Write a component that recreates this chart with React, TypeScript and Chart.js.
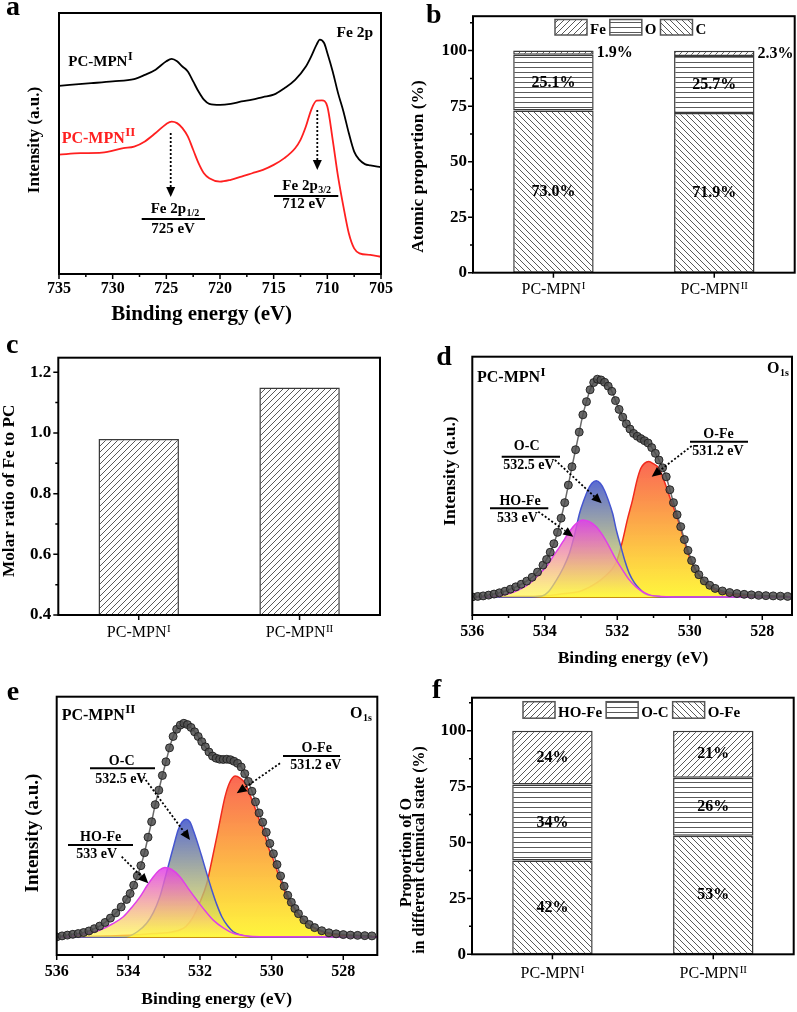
import React, { useEffect, useRef } from 'react';
import { Chart, registerables } from 'chart.js';

Chart.register(...registerables);

const SERIF = '"Liberation Serif", "Times New Roman", "DejaVu Serif", serif';
const RED = '#ff2020';

// ---------------- Panel a : Fe 2p spectra ----------------
const feEnergyI = [735, 732, 730, 728, 727, 726, 725, 724.5, 724, 723.5, 723, 722.5, 722, 721.5, 721, 720, 719, 718, 717, 716, 715, 714, 713, 712, 711.5, 711, 710.7, 710.3, 710, 709.5, 709, 708.5, 708, 707.5, 707, 706.5, 706, 705];
const feIntensityI = [72.1, 73.1, 73.8, 74.7, 76.3, 78.3, 81.5, 82.4, 81.5, 79.5, 77.6, 73.8, 69.9, 66.8, 65.2, 64.8, 65.2, 66.1, 66.8, 67.8, 68.7, 71.2, 74.4, 79.5, 83.4, 87.9, 89.8, 88.5, 84.7, 77.6, 69.3, 62.3, 54.0, 46.9, 43.7, 42.1, 41.6, 40.9];
const feEnergyII = [735, 733, 731, 729, 728, 727, 726, 725, 724.5, 724, 723.5, 723, 722.5, 722, 721.5, 721, 720, 719, 718, 717, 716, 715, 714, 713, 712.5, 712, 711.5, 711, 710.5, 710, 709.5, 709, 708.5, 708, 707.5, 707, 706, 705];
const feIntensityII = [45.7, 46.3, 46.5, 48.2, 48.8, 50.8, 54.0, 57.5, 58.4, 57.8, 55.9, 52.7, 47.6, 42.5, 38.6, 36.7, 35.4, 36.1, 37.3, 38.6, 39.9, 41.8, 44.4, 48.2, 51.4, 56.5, 62.9, 66.4, 66.5, 64.2, 51.4, 37.3, 25.8, 15.6, 9.8, 7.9, 7.3, 6.6];
const feTicks = [735, 730, 725, 720, 715, 710, 705];
const feMinorTicks = [732.5, 727.5, 722.5, 717.5, 712.5, 707.5];

// ---------------- Panel b : atomic proportion ----------------
const sampleNames = ['PC-MPN', 'PC-MPN'];
const sampleSup = ['I', 'II'];
const atomicC = [73.0, 71.9];
const atomicO = [25.1, 25.7];
const atomicFe = [1.9, 2.3];
const pctTicks = [0, 25, 50, 75, 100];
const pctMinorTicks = [12.5, 37.5, 62.5, 87.5, 112.5];

// ---------------- Panel c : molar ratio ----------------
const molarRatio = [0.98, 1.15];
const ratioTicks = [0.4, 0.6, 0.8, 1.0, 1.2];
const ratioMinorTicks = [0.5, 0.7, 0.9, 1.1];

// ---------------- Panels d, e : O 1s ----------------
const o1sTicks = [536, 534, 532, 530, 528];
const o1sMinorTicks = [535, 533, 531, 529];

const dEnvE = [536.0, 535.85, 535.7, 535.55, 535.4, 535.25, 535.1, 534.95, 534.8, 534.65, 534.5, 534.35, 534.2, 534.05, 533.95, 533.85, 533.75, 533.65, 533.55, 533.45, 533.35, 533.25, 533.15, 533.05, 532.95, 532.85, 532.75, 532.65, 532.55, 532.45, 532.35, 532.25, 532.15, 532.05, 531.95, 531.85, 531.75, 531.65, 531.55, 531.45, 531.35, 531.25, 531.15, 531.05, 530.95, 530.85, 530.75, 530.65, 530.55, 530.45, 530.35, 530.25, 530.15, 530.05, 529.95, 529.85, 529.75, 529.6, 529.45, 529.3, 529.1, 528.9, 528.7, 528.5, 528.3, 528.1, 527.9, 527.7, 527.5, 527.3];
const dEnvI = [7.0, 7.2, 7.4, 7.7, 8.1, 8.6, 9.2, 10.0, 10.9, 11.9, 13.1, 14.6, 16.6, 19.3, 21.5, 24.3, 27.6, 32.0, 37.5, 43.5, 50.3, 57.4, 64.0, 70.8, 77.5, 82.6, 87.2, 90.0, 91.3, 91.0, 90.1, 88.6, 86.6, 83.0, 79.6, 76.6, 74.0, 72.0, 70.3, 69.2, 68.3, 67.5, 66.6, 64.8, 62.6, 60.0, 57.0, 53.5, 48.5, 43.5, 38.8, 34.2, 29.2, 25.0, 21.1, 17.9, 15.6, 13.2, 11.5, 10.3, 9.3, 8.7, 8.3, 8.0, 7.8, 7.6, 7.5, 7.4, 7.3, 7.2];
const dOFeE = [536.0, 535.0, 534.0, 533.5, 533.0, 532.58, 532.3, 532.13, 532.0, 531.85, 531.72, 531.58, 531.45, 531.35, 531.25, 531.13, 531.0, 530.85, 530.72, 530.62, 530.5, 530.39, 530.25, 530.16, 530.05, 529.93, 529.8, 529.7, 529.55, 529.38, 529.15, 528.92, 528.5, 528.0, 527.2];
const dOFeI = [7.0, 7.1, 7.4, 8.2, 9.3, 12.3, 15.5, 18.0, 21.5, 29.0, 37.0, 44.5, 52.5, 56.8, 58.7, 59.4, 58.5, 56.8, 52.5, 48.4, 43.5, 39.4, 33.5, 29.0, 24.0, 20.0, 16.5, 14.8, 12.3, 10.3, 8.9, 8.1, 7.5, 7.3, 7.1];
const dOCE = [536.0, 534.5, 534.09, 533.9, 533.68, 533.5, 533.32, 533.18, 533.04, 532.92, 532.81, 532.7, 532.58, 532.47, 532.36, 532.25, 532.13, 532.02, 531.9, 531.78, 531.67, 531.53, 531.4, 531.25, 531.0, 530.5, 527.2];
const dOCI = [7.0, 7.0, 7.3, 9.0, 13.5, 18.0, 23.9, 31.0, 39.4, 44.5, 48.4, 51.0, 52.0, 51.0, 48.4, 44.5, 39.4, 32.5, 26.4, 20.5, 16.1, 12.5, 10.3, 8.3, 7.3, 7.0, 7.0];
const dHOFeE = [536.0, 535.4, 535.0, 534.7, 534.41, 534.2, 533.96, 533.78, 533.59, 533.45, 533.32, 533.15, 532.95, 532.78, 532.58, 532.4, 532.22, 532.05, 531.85, 531.68, 531.49, 531.3, 531.1, 530.8, 530.0, 527.2];
const dHOFeI = [7.0, 7.3, 8.2, 9.8, 12.3, 15.2, 18.7, 22.5, 26.4, 29.5, 32.3, 35.2, 36.8, 36.2, 34.2, 30.8, 26.4, 21.8, 17.4, 13.8, 11.0, 9.0, 7.7, 7.2, 7.0, 7.0];
const dBgE = [536.0, 527.2];
const dBgI = [7.0, 7.0];

const eEnvE = [536.0, 535.85, 535.7, 535.55, 535.4, 535.25, 535.1, 534.95, 534.8, 534.65, 534.5, 534.35, 534.2, 534.05, 533.95, 533.85, 533.75, 533.65, 533.55, 533.45, 533.35, 533.25, 533.15, 533.05, 532.95, 532.85, 532.75, 532.65, 532.55, 532.45, 532.35, 532.25, 532.15, 532.05, 531.95, 531.85, 531.75, 531.65, 531.55, 531.45, 531.35, 531.25, 531.15, 531.05, 530.95, 530.85, 530.75, 530.65, 530.55, 530.45, 530.35, 530.25, 530.15, 530.05, 529.95, 529.85, 529.75, 529.65, 529.55, 529.45, 529.35, 529.25, 529.1, 528.95, 528.8, 528.6, 528.4, 528.2, 528.0, 527.8, 527.6, 527.4, 527.2];
const eEnvI = [7.0, 7.4, 7.7, 8.0, 8.3, 8.7, 9.3, 10.2, 11.2, 12.6, 14.3, 16.3, 18.6, 21.5, 23.8, 27.0, 30.6, 34.6, 39.6, 45.6, 51.6, 58.2, 63.8, 69.5, 74.8, 80.2, 84.6, 87.4, 89.0, 89.7, 89.2, 88.1, 86.4, 84.6, 82.6, 80.6, 78.6, 77.0, 76.2, 75.8, 75.7, 75.8, 75.6, 75.0, 74.2, 72.8, 70.2, 67.2, 63.4, 59.3, 55.0, 51.4, 47.5, 43.2, 39.2, 35.0, 30.6, 26.6, 23.1, 20.4, 18.0, 16.0, 13.6, 11.8, 10.6, 9.4, 8.6, 8.2, 7.9, 7.7, 7.6, 7.5, 7.4];
const eOFeE = [536.0, 535.3, 534.5, 533.86, 533.3, 532.75, 532.4, 532.19, 532.0, 531.81, 531.67, 531.53, 531.42, 531.3, 531.18, 531.02, 530.88, 530.74, 530.62, 530.51, 530.38, 530.23, 530.1, 529.95, 529.82, 529.68, 529.55, 529.4, 529.2, 529.02, 528.75, 528.46, 528.0, 527.5, 527.05];
const eOFeI = [7.0, 7.1, 7.4, 7.7, 8.3, 9.0, 11.0, 14.8, 20.5, 27.7, 36.5, 45.8, 53.5, 61.3, 66.5, 69.3, 68.5, 66.5, 62.5, 58.7, 53.5, 48.4, 42.0, 36.8, 31.5, 26.4, 22.0, 18.7, 14.8, 12.3, 10.0, 8.4, 7.6, 7.3, 7.1];
const eOCE = [536.0, 534.6, 534.05, 533.75, 533.49, 533.3, 533.12, 532.98, 532.84, 532.72, 532.61, 532.5, 532.39, 532.28, 532.19, 532.07, 531.95, 531.81, 531.67, 531.53, 531.39, 531.23, 531.07, 530.85, 530.6, 530.0, 527.05];
const eOCI = [7.0, 7.0, 7.1, 9.0, 12.3, 16.5, 22.6, 29.5, 36.8, 43.0, 48.4, 51.5, 52.6, 51.5, 48.4, 43.5, 38.1, 31.5, 25.2, 19.5, 14.8, 11.3, 9.0, 7.7, 7.1, 7.0, 7.0];
const eHOFeE = [536.0, 535.72, 535.2, 534.79, 534.45, 534.14, 533.9, 533.67, 533.48, 533.3, 533.14, 532.98, 532.8, 532.56, 532.33, 532.09, 531.85, 531.63, 531.35, 531.07, 530.7, 530.33, 527.05];
const eHOFeI = [7.0, 7.1, 8.2, 9.7, 12.0, 14.8, 18.5, 22.6, 26.8, 30.3, 32.8, 33.9, 33.2, 30.3, 25.8, 21.3, 17.0, 13.5, 10.5, 8.4, 7.4, 7.1, 7.0];
const eBgE = [536.0, 527.05];
const eBgI = [7.0, 7.0];

// ---------------- Panel f : O chemical states ----------------
const stateOFe = [42, 53];
const stateOC = [34, 26];
const stateHOFe = [24, 21];

// ---------------- helpers ----------------
const pts = (xs: number[], ys: number[]) => xs.map((x, i) => ({ x, y: ys[i] }));
const fontOf = (size: number, bold = true) => `${bold ? 'bold ' : ''}${size}px ${SERIF}`;

type Ann =
  | { kind: 'text'; x: number; y: number; text: string; size: number; bold?: boolean; color?: string; align?: 'left' | 'center' | 'right'; sup?: string; sub?: string; small?: number; shift?: number }
  | { kind: 'rot'; x: number; y: number; text: string; size: number }
  | { kind: 'line'; x1: number; y1: number; x2: number; y2: number }
  | { kind: 'arrow'; x1: number; y1: number; x2: number; y2: number };

const T = (text: string, x: number, y: number, size: number, o: any = {}): Ann => ({ kind: 'text', text, x, y, size, bold: true, align: 'center', ...o });
const R = (text: string, x: number, y: number, size: number): Ann => ({ kind: 'rot', text, x, y, size });
const L = (x1: number, y1: number, x2: number, y2: number): Ann => ({ kind: 'line', x1, y1, x2, y2 });
const A = (x1: number, y1: number, x2: number, y2: number): Ann => ({ kind: 'arrow', x1, y1, x2, y2 });

function drawScriptText(ctx: CanvasRenderingContext2D, a: any) {
  const bold = a.bold !== false;
  ctx.font = fontOf(a.size, bold);
  const w1 = ctx.measureText(a.text).width;
  const extra = a.sup ?? a.sub;
  let w2 = 0;
  const small = a.small ?? Math.round(a.size * 0.7);
  if (extra) {
    ctx.font = fontOf(small, bold);
    w2 = ctx.measureText(extra).width + 0.5;
  }
  const total = w1 + w2;
  const x0 = a.align === 'center' ? a.x - total / 2 : a.align === 'right' ? a.x - total : a.x;
  ctx.fillStyle = a.color || '#000';
  ctx.textAlign = 'left';
  ctx.textBaseline = 'alphabetic';
  ctx.font = fontOf(a.size, bold);
  ctx.fillText(a.text, x0, a.y);
  if (extra) {
    ctx.font = fontOf(small, bold);
    const dy = a.sup ? -(a.shift ?? 5) : (a.shift ?? 3);
    ctx.fillText(extra, x0 + w1 + 0.5, a.y + dy);
  }
}

function drawArrow(ctx: CanvasRenderingContext2D, x1: number, y1: number, x2: number, y2: number) {
  const ang = Math.atan2(y2 - y1, x2 - x1);
  const head = 10, hw = 4.5;
  const bx = x2 - head * Math.cos(ang), by = y2 - head * Math.sin(ang);
  ctx.strokeStyle = '#000';
  ctx.fillStyle = '#000';
  ctx.lineWidth = 1.8;
  ctx.setLineDash([2, 2]);
  ctx.beginPath();
  ctx.moveTo(x1, y1);
  ctx.lineTo(bx, by);
  ctx.stroke();
  ctx.setLineDash([]);
  ctx.beginPath();
  ctx.moveTo(x2, y2);
  ctx.lineTo(bx - hw * Math.sin(ang), by + hw * Math.cos(ang));
  ctx.lineTo(bx + hw * Math.sin(ang), by - hw * Math.cos(ang));
  ctx.closePath();
  ctx.fill();
}

function annotations(items: Ann[]) {
  return {
    id: 'annotations',
    afterDraw(chart: any) {
      const ctx: CanvasRenderingContext2D = chart.ctx;
      ctx.save();
      for (const a of items) {
        if (a.kind === 'text') drawScriptText(ctx, a);
        else if (a.kind === 'rot') {
          ctx.save();
          ctx.translate(a.x, a.y);
          ctx.rotate(-Math.PI / 2);
          ctx.font = fontOf(a.size, true);
          ctx.fillStyle = '#000';
          ctx.textAlign = 'center';
          ctx.textBaseline = 'middle';
          ctx.fillText(a.text, 0, 0);
          ctx.restore();
        } else if (a.kind === 'line') {
          ctx.strokeStyle = '#000';
          ctx.lineWidth = 2;
          ctx.beginPath();
          ctx.moveTo(a.x1, a.y1);
          ctx.lineTo(a.x2, a.y2);
          ctx.stroke();
        } else if (a.kind === 'arrow') drawArrow(ctx, a.x1, a.y1, a.x2, a.y2);
      }
      ctx.restore();
    },
  };
}

function framePlugin(opt: { xMajor?: boolean; yMajor?: boolean; xMinor?: number[]; yMinor?: number[] }) {
  return {
    id: 'frame',
    afterDraw(chart: any) {
      const { ctx, chartArea: a, scales } = chart;
      const xs = scales.x, ys = scales.y;
      ctx.save();
      ctx.strokeStyle = '#000';
      ctx.lineWidth = 1.5;
      ctx.beginPath();
      if (opt.xMajor) xs.ticks.forEach((_: any, i: number) => { const p = xs.getPixelForTick(i); ctx.moveTo(p, a.bottom); ctx.lineTo(p, a.bottom + 5); });
      (opt.xMinor || []).forEach((v) => { const p = xs.getPixelForValue(v); ctx.moveTo(p, a.bottom); ctx.lineTo(p, a.bottom + 3); });
      if (opt.yMajor) ys.ticks.forEach((_: any, i: number) => { const p = ys.getPixelForTick(i); ctx.moveTo(a.left, p); ctx.lineTo(a.left - 5, p); });
      (opt.yMinor || []).forEach((v) => { const p = ys.getPixelForValue(v); ctx.moveTo(a.left, p); ctx.lineTo(a.left - 3, p); });
      ctx.stroke();
      ctx.lineWidth = 2;
      ctx.strokeRect(a.left, a.top, a.right - a.left, a.bottom - a.top);
      ctx.restore();
    },
  };
}

function categoryLabels(sups: string[], dy: number) {
  return {
    id: 'catLabels',
    afterDraw(chart: any) {
      const { ctx, scales, chartArea } = chart;
      ctx.save();
      (chart.data.labels as string[]).forEach((lab, i) => {
        drawScriptText(ctx, { x: scales.x.getPixelForValue(i), y: chartArea.bottom + dy, text: lab, size: 16, bold: false, align: 'center', sup: sups[i], small: 11, shift: 5 });
      });
      ctx.restore();
    },
  };
}

function barLabels(fmt: (v: number) => string) {
  return {
    id: 'barLabels',
    afterDatasetsDraw(chart: any) {
      const ctx: CanvasRenderingContext2D = chart.ctx;
      ctx.save();
      ctx.font = fontOf(16, true);
      ctx.fillStyle = '#000';
      ctx.textBaseline = 'middle';
      chart.data.datasets.forEach((ds: any, di: number) => {
        if (!ds.labelMode) return;
        chart.getDatasetMeta(di).data.forEach((el: any, i: number) => {
          const { x, y, base, width } = el.getProps(['x', 'y', 'base', 'width'], true);
          const cy = (y + base) / 2;
          const txt = fmt(ds.data[i]);
          if (ds.labelMode === 'right') { ctx.textAlign = 'left'; ctx.fillText(txt, x + width / 2 + 3, cy); }
          else { ctx.textAlign = 'center'; ctx.fillText(txt, x, cy); }
        });
      });
      ctx.restore();
    },
  };
}

function hatchLegend(x0: number, top: number, h: number, baseline: number) {
  return {
    id: 'hatchLegend',
    afterDraw(chart: any) {
      const ctx: CanvasRenderingContext2D = chart.ctx;
      ctx.save();
      ctx.font = fontOf(15, true);
      ctx.textAlign = 'left';
      ctx.textBaseline = 'alphabetic';
      let x = x0;
      [...chart.data.datasets].reverse().forEach((ds: any) => {
        ctx.fillStyle = ds.backgroundColor;
        ctx.fillRect(x, top, 32, h);
        ctx.strokeStyle = '#555';
        ctx.lineWidth = 1.5;
        ctx.strokeRect(x, top, 32, h);
        x += 35;
        ctx.fillStyle = '#000';
        ctx.fillText(ds.label, x, baseline);
        x += ctx.measureText(ds.label).width + 4;
      });
      ctx.restore();
    },
  };
}

function hatch(kind: 'slash' | 'back' | 'horiz'): CanvasPattern {
  const s = kind === 'horiz' ? 5 : 6;
  const c = document.createElement('canvas');
  c.width = s;
  c.height = s;
  const g = c.getContext('2d')!;
  g.fillStyle = '#fff';
  g.fillRect(0, 0, s, s);
  g.strokeStyle = '#474747';
  g.lineWidth = 0.9;
  g.beginPath();
  if (kind === 'horiz') { g.moveTo(0, 2.5); g.lineTo(s, 2.5); }
  else if (kind === 'slash') { g.moveTo(-1, s + 1); g.lineTo(s + 1, -1); g.moveTo(-1, 1); g.lineTo(1, -1); g.moveTo(s - 1, s + 1); g.lineTo(s + 1, s - 1); }
  else { g.moveTo(-1, -1); g.lineTo(s + 1, s + 1); g.moveTo(s - 1, -1); g.lineTo(s + 1, 1); g.moveTo(-1, s - 1); g.lineTo(1, s + 1); }
  g.stroke();
  return g.createPattern(c, 'repeat')!;
}

function peakFill(topColor: string, bottomColor: string, base: number) {
  return (c: any) => {
    const chart = c.chart;
    if (!chart.chartArea || !chart.scales.y) return topColor;
    const ds = chart.data.datasets[c.datasetIndex];
    const peak = Math.max(...ds.data.map((p: any) => p.y));
    const ys = chart.scales.y;
    const g = chart.ctx.createLinearGradient(0, ys.getPixelForValue(peak), 0, ys.getPixelForValue(base));
    g.addColorStop(0, topColor);
    g.addColorStop(1, bottomColor);
    return g;
  };
}

const noGrid = { display: false, drawTicks: false };
const noBorder = { display: false };
const setTicks = (arr: number[]) => (s: any) => { s.ticks = arr.map((v) => ({ value: v })); };
const tickFont = (size: number) => ({ family: SERIF, size, weight: 'bold' as const });

function baseOptions(pad: { top: number; right: number }) {
  return {
    responsive: false,
    animation: false as const,
    devicePixelRatio: 1,
    events: [] as any[],
    layout: { padding: { left: 0, top: pad.top, right: pad.right, bottom: 0 } },
    plugins: { legend: { display: false }, tooltip: { enabled: false } },
  };
}

// ---------------- chart builders ----------------
function makeA(): any {
  return {
    type: 'line',
    data: {
      datasets: [
        { data: pts(feEnergyI, feIntensityI), borderColor: '#000', borderWidth: 1.8, pointRadius: 0, cubicInterpolationMode: 'monotone', fill: false },
        { data: pts(feEnergyII, feIntensityII), borderColor: RED, borderWidth: 1.8, pointRadius: 0, cubicInterpolationMode: 'monotone', fill: false },
      ],
    },
    options: {
      ...baseOptions({ top: 13, right: 17 }),
      scales: {
        x: { type: 'linear', reverse: true, min: 705, max: 735, afterBuildTicks: setTicks(feTicks), ticks: { font: tickFont(16), color: '#000', padding: 5, maxRotation: 0, autoSkip: false }, grid: noGrid, border: noBorder, afterFit: (s: any) => { s.height = 56; } },
        y: { type: 'linear', min: 0, max: 100, ticks: { display: false }, grid: noGrid, border: noBorder, afterFit: (s: any) => { s.width = 59; } },
      },
    },
    plugins: [
      framePlugin({ xMajor: true, xMinor: feMinorTicks }),
      annotations([
        T('a', 6, 15, 28, { align: 'left' }),
        T('Fe 2p', 373, 36.7, 15.5, { align: 'right' }),
        T('PC-MPN', 68.3, 66, 15, { align: 'left', sup: 'I', small: 12, shift: 6 }),
        T('PC-MPN', 61.7, 143.3, 16, { align: 'left', sup: 'II', small: 13, shift: 7, color: RED }),
        A(170.7, 133, 170.7, 197),
        T('Fe 2p', 175, 213.3, 15, { sub: '1/2', small: 10, shift: 3 }),
        L(141.7, 219, 205, 219),
        T('725 eV', 173, 233.3, 15),
        A(317.3, 110, 317.3, 170),
        T('Fe 2p', 306.7, 190, 15, { sub: '3/2', small: 10, shift: 3 }),
        L(274, 196, 338.3, 196),
        T('712 eV', 304, 208.3, 15),
        T('Binding energy (eV)', 201.7, 320, 21),
        R('Intensity (a.u.)', 35, 140, 17),
      ]),
    ],
  };
}

function stackedBar(cfg: { series: { label: string; data: number[]; pat: CanvasPattern }[]; fmt: (v: number) => string; pad: { top: number; right: number }; ymax: number; yWidth: number; xHeight: number; catDy: number; legend: [number, number, number, number]; labelModes: string[]; ann: Ann[] }): any {
  return {
    type: 'bar',
    data: {
      labels: sampleNames,
      datasets: cfg.series.map((s, i) => ({ label: s.label, data: s.data, backgroundColor: s.pat, borderColor: '#3a3a3a', borderWidth: 1.5, borderSkipped: false, categoryPercentage: 1, barPercentage: 0.5, labelMode: cfg.labelModes[i] })),
    },
    options: {
      ...baseOptions(cfg.pad),
      scales: {
        x: { stacked: true, ticks: { display: false }, grid: noGrid, border: noBorder, afterFit: (s: any) => { s.height = cfg.xHeight; } },
        y: { stacked: true, min: 0, max: cfg.ymax, afterBuildTicks: setTicks(pctTicks), ticks: { font: tickFont(17), color: '#000', padding: 6 }, grid: noGrid, border: noBorder, afterFit: (s: any) => { s.width = cfg.yWidth; } },
      },
    },
    plugins: [
      barLabels(cfg.fmt),
      framePlugin({ xMajor: true, yMajor: true, yMinor: pctMinorTicks }),
      categoryLabels(sampleSup, cfg.catDy),
      hatchLegend(...cfg.legend),
      annotations(cfg.ann),
    ],
  };
}

function makeB(): any {
  return stackedBar({
    series: [
      { label: 'C', data: atomicC, pat: hatch('back') },
      { label: 'O', data: atomicO, pat: hatch('horiz') },
      { label: 'Fe', data: atomicFe, pat: hatch('slash') },
    ],
    fmt: (v) => v.toFixed(1) + '%',
    pad: { top: 14, right: 2.3 },
    ymax: 115.5,
    yWidth: 75,
    xHeight: 57.3,
    catDy: 21.3,
    legend: [157, 19.5, 15.5, 33.8],
    labelModes: ['center', 'center', 'right'],
    ann: [T('b', 28, 23.3, 28, { align: 'left' }), R('Atomic proportion (%)', 20.7, 166.5, 17.4)],
  });
}

function makeF(): any {
  return stackedBar({
    series: [
      { label: 'O-Fe', data: stateOFe, pat: hatch('back') },
      { label: 'O-C', data: stateOC, pat: hatch('horiz') },
      { label: 'HO-Fe', data: stateHOFe, pat: hatch('slash') },
    ],
    fmt: (v) => Math.round(v) + '%',
    pad: { top: 27.7, right: 3.3 },
    ymax: 114.8,
    yWidth: 74,
    xHeight: 57.7,
    catDy: 24,
    legend: [125, 31.7, 16.5, 46.7],
    labelModes: ['center', 'center', 'center'],
    ann: [
      T('f', 34, 28.3, 28, { align: 'left' }),
      R('Proportion of O', 9, 182.5, 16),
      R('in different chemical state (%)', 22.3, 180, 16),
    ],
  });
}

function makeC(): any {
  return {
    type: 'bar',
    data: {
      labels: sampleNames,
      datasets: [{ label: 'Fe/PC', data: molarRatio, backgroundColor: hatch('slash'), borderColor: '#3a3a3a', borderWidth: 1.5, borderSkipped: false, categoryPercentage: 1, barPercentage: 0.5 }],
    },
    options: {
      ...baseOptions({ top: 27.7, right: 18 }),
      scales: {
        x: { ticks: { display: false }, grid: noGrid, border: noBorder, afterFit: (s: any) => { s.height = 55; } },
        y: { min: 0.4, max: 1.248, afterBuildTicks: setTicks(ratioTicks), ticks: { font: tickFont(17), color: '#000', padding: 7, callback: (v: any) => Number(v).toFixed(1) }, grid: noGrid, border: noBorder, afterFit: (s: any) => { s.width = 58.3; } },
      },
    },
    plugins: [
      framePlugin({ xMajor: true, yMajor: true, yMinor: ratioMinorTicks }),
      categoryLabels(sampleSup, 22.3),
      annotations([T('c', 6, 23, 28, { align: 'left' }), R('Molar ratio of Fe to PC', 10, 160.8, 17.2)]),
    ],
  };
}

function o1sChart(cfg: { env: [number[], number[]]; ofe: [number[], number[]]; oc: [number[], number[]]; hofe: [number[], number[]]; bg: [number[], number[]]; xmin: number; pad: { top: number; right: number }; yWidth: number; xHeight: number; ann: Ann[] }): any {
  const comp = (d: [number[], number[]], line: string, top: string, bottom: string) => ({
    data: pts(d[0], d[1]), borderColor: line, borderWidth: 1.5, pointRadius: 0, cubicInterpolationMode: 'monotone',
    fill: { value: 7 }, backgroundColor: peakFill(top, bottom, 7),
  });
  return {
    type: 'line',
    data: {
      datasets: [
        { data: pts(cfg.env[0], cfg.env[1]), borderColor: '#6a6a6a', borderWidth: 1.5, cubicInterpolationMode: 'monotone', pointRadius: 4, pointBackgroundColor: 'rgba(78,78,78,0.85)', pointBorderColor: 'rgba(30,30,30,0.9)', pointBorderWidth: 1, fill: false },
        comp(cfg.hofe, '#e040e8', 'rgba(225,60,235,0.85)', 'rgba(255,250,70,0.7)'),
        comp(cfg.oc, '#4656d0', 'rgba(70,90,205,0.9)', 'rgba(255,250,60,0.75)'),
        comp(cfg.ofe, '#f02a1e', 'rgba(250,95,75,0.95)', 'rgba(255,245,40,0.9)'),
        { data: pts(cfg.bg[0], cfg.bg[1]), borderColor: '#c89010', borderWidth: 2, pointRadius: 0, fill: false },
      ],
    },
    options: {
      ...baseOptions(cfg.pad),
      scales: {
        x: { type: 'linear', reverse: true, min: cfg.xmin, max: 536, afterBuildTicks: setTicks(o1sTicks), ticks: { font: tickFont(16), color: '#000', padding: 7, maxRotation: 0, autoSkip: false }, grid: noGrid, border: noBorder, afterFit: (s: any) => { s.height = cfg.xHeight; } },
        y: { type: 'linear', min: 0, max: 100, ticks: { display: false }, grid: noGrid, border: noBorder, afterFit: (s: any) => { s.width = cfg.yWidth; } },
      },
    },
    plugins: [framePlugin({ xMajor: true, xMinor: o1sMinorTicks }), annotations(cfg.ann)],
  };
}

function makeD(): any {
  return o1sChart({
    env: [dEnvE, dEnvI], ofe: [dOFeE, dOFeI], oc: [dOCE, dOCI], hofe: [dHOFeE, dHOFeI], bg: [dBgE, dBgI],
    xmin: 527.18, pad: { top: 26.7, right: 3.3 }, yWidth: 74.3, xHeight: 55,
    ann: [
      T('d', 38.3, 35, 28, { align: 'left' }),
      T('PC-MPN', 79, 51.7, 16, { align: 'left', sup: 'I', small: 13, shift: 6 }),
      T('O', 369, 43.3, 16, { align: 'left', sub: '1s', small: 10, shift: 3 }),
      T('O-Fe', 320.5, 108.3, 14),
      L(292, 111.7, 350, 111.7),
      T('531.2 eV', 320, 125, 14),
      A(293.7, 116, 253.7, 146.7),
      T('O-C', 128.7, 120, 14),
      L(103.7, 126.7, 162, 126.7),
      T('532.5 eV', 131, 139.3, 14),
      A(157, 130, 203.7, 173.3),
      T('HO-Fe', 122, 175, 14),
      L(92, 178.3, 150.3, 178.3),
      T('533 eV', 119.5, 191.7, 14),
      A(140.3, 181.7, 175.3, 206.7),
      T('Binding energy (eV)', 235, 333.3, 17.5),
      R('Intensity (a.u.)', 52.3, 141, 17.5),
    ],
  });
}

function makeE(): any {
  return o1sChart({
    env: [eEnvE, eEnvI], ofe: [eOFeE, eOFeI], oc: [eOCE, eOCI], hofe: [eHOFeE, eHOFeI], bg: [eBgE, eBgI],
    xmin: 527.05, pad: { top: 26.7, right: 20.7 }, yWidth: 56.7, xHeight: 57,
    ann: [
      T('e', 6.7, 30, 28, { align: 'left' }),
      T('PC-MPN', 61.7, 50, 16, { align: 'left', sup: 'II', small: 13, shift: 7 }),
      T('O', 350, 48, 16, { align: 'left', sub: '1s', small: 10, shift: 3 }),
      T('O-Fe', 316.7, 81.7, 14),
      L(283, 86, 340, 86),
      T('531.2 eV', 315.8, 99.3, 14),
      A(280, 93.3, 236.7, 123.3),
      T('O-C', 121.7, 95, 14),
      L(90, 98.3, 155, 98.3),
      T('532.5 eV', 120.8, 112.7, 14),
      A(143.3, 106.7, 190, 170),
      T('HO-Fe', 100.7, 170.7, 14),
      L(68, 175, 133, 175),
      T('533 eV', 96.7, 188.3, 14),
      A(121.7, 186.7, 148.3, 213.3),
      T('Binding energy (eV)', 216.7, 334.3, 17.5),
      R('Intensity (a.u.)', 33.3, 163, 19),
    ],
  });
}

function Panel({ left, top, width, height, make }: { left: number; top: number; width: number; height: number; make: () => any }) {
  const ref = useRef<HTMLCanvasElement>(null);
  useEffect(() => {
    if (!ref.current) return;
    const chart = new Chart(ref.current, make());
    return () => chart.destroy();
  }, []);
  return <canvas ref={ref} width={width} height={height} style={{ position: 'absolute', left, top, width, height }} />;
}

export default function App() {
  return (
    <div style={{ position: 'absolute', left: 0, top: 0, width: 797, height: 1012, background: '#fff', overflow: 'hidden' }}>
      <Panel left={0} top={0} width={398} height={330} make={makeA} />
      <Panel left={398} top={0} width={399} height={330} make={makeB} />
      <Panel left={0} top={330} width={398} height={340} make={makeC} />
      <Panel left={398} top={330} width={399} height={340} make={makeD} />
      <Panel left={0} top={670} width={398} height={342} make={makeE} />
      <Panel left={398} top={670} width={399} height={342} make={makeF} />
    </div>
  );
}
